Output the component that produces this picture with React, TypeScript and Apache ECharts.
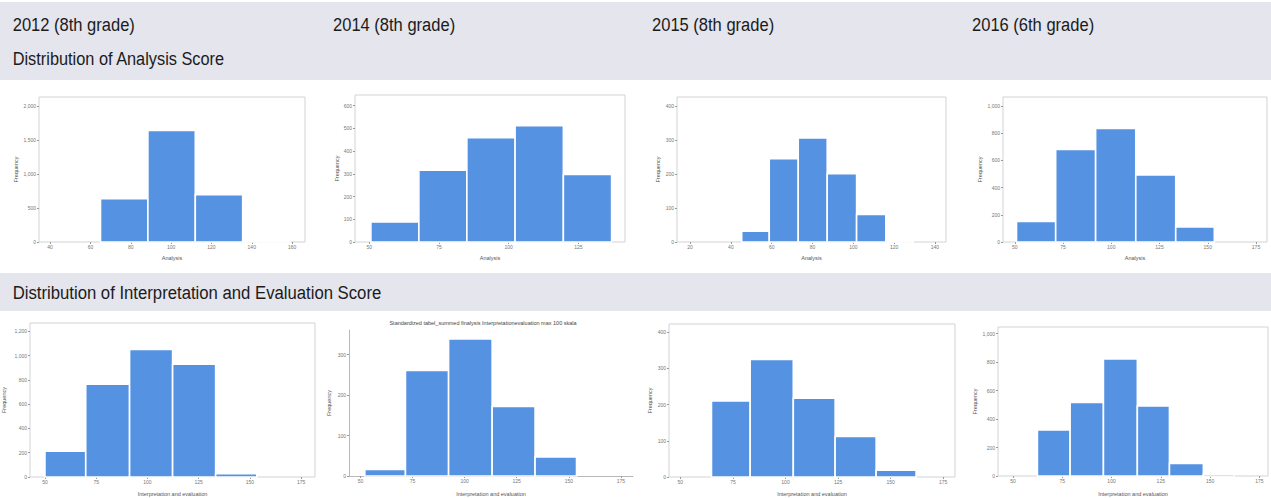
import React, { useEffect, useRef } from "react";
import * as echarts from "echarts";

// Header texts
const yearLabels = ["2012 (8th grade)", "2014 (8th grade)", "2015 (8th grade)", "2016 (6th grade)"];
const sectionTitles = [
  "Distribution of Analysis Score",
  "Distribution of Interpretation and Evaluation Score",
];
const analysisAxisName = "Analysis";
const interpAxisName = "Interpretation and evaluation";
const freqAxisName = "Frequency";
const interp2014Title =
  "Standardized tabel_summed finalysis Interpretationevaluation max 100 skala";

// Analysis score histograms (bin edges + counts)
const analysis2012Edges = [65, 88.5, 112, 135.5, 159];
const analysis2012Freq = [637, 1642, 696, 15];
const analysis2012XTicks = [40, 60, 80, 100, 120, 140, 160];
const analysis2012YTicks = [0, 500, 1000, 1500, 2000];

const analysis2014Edges = [50.6, 67.8, 85, 102.3, 119.6, 136.9];
const analysis2014Freq = [88, 316, 459, 512, 297];
const analysis2014XTicks = [50, 75, 100, 125];
const analysis2014YTicks = [0, 100, 200, 300, 400, 500, 600];

const analysis2015Edges = [45.3, 58.8, 73, 87.2, 101.6, 115.9, 129.4];
const analysis2015Freq = [32, 245, 306, 201, 81, 2];
const analysis2015XTicks = [20, 40, 60, 80, 100, 120, 140];
const analysis2015YTicks = [0, 100, 200, 300, 400];

const analysis2016Edges = [50.9, 71.2, 91.9, 112.7, 133.4, 153.4];
const analysis2016Freq = [151, 680, 834, 493, 110];
const analysis2016XTicks = [50, 75, 100, 125, 150, 175];
const analysis2016YTicks = [0, 200, 400, 600, 800, 1000];

// Interpretation and evaluation score histograms
const interp2012Edges = [50, 69.9, 91.3, 112.3, 133.3, 153.4];
const interp2012Freq = [213, 764, 1050, 928, 27];
const interp2012XTicks = [50, 75, 100, 125, 150, 175];
const interp2012YTicks = [0, 200, 400, 600, 800, 1000, 1200];

const interp2014Edges = [52.1, 71.6, 92.3, 113.2, 133.8, 153.7];
const interp2014Freq = [16, 261, 339, 172, 47];
const interp2014XTicks = [50, 75, 100, 125, 150, 175];
const interp2014YTicks = [0, 100, 200, 300];

const interp2015Edges = [64.8, 83.2, 103.7, 123.6, 143.1, 162.1];
const interp2015Freq = [210, 325, 218, 112, 19];
const interp2015XTicks = [50, 75, 100, 125, 150, 175];
const interp2015YTicks = [0, 100, 200, 300, 400];

const interp2016Edges = [62.4, 79, 95.9, 113.1, 129.4, 146.6, 162.3];
const interp2016Freq = [324, 516, 822, 493, 89, 12];
const interp2016XTicks = [50, 75, 100, 125, 150, 175];
const interp2016YTicks = [0, 200, 400, 600, 800, 1000];

// Panels in reading order, data only
const panels = [
  { edges: analysis2012Edges, freq: analysis2012Freq, xTicks: analysis2012XTicks, yTicks: analysis2012YTicks, xName: analysisAxisName },
  { edges: analysis2014Edges, freq: analysis2014Freq, xTicks: analysis2014XTicks, yTicks: analysis2014YTicks, xName: analysisAxisName },
  { edges: analysis2015Edges, freq: analysis2015Freq, xTicks: analysis2015XTicks, yTicks: analysis2015YTicks, xName: analysisAxisName },
  { edges: analysis2016Edges, freq: analysis2016Freq, xTicks: analysis2016XTicks, yTicks: analysis2016YTicks, xName: analysisAxisName },
  { edges: interp2012Edges, freq: interp2012Freq, xTicks: interp2012XTicks, yTicks: interp2012YTicks, xName: interpAxisName },
  { edges: interp2014Edges, freq: interp2014Freq, xTicks: interp2014XTicks, yTicks: interp2014YTicks, xName: interpAxisName },
  { edges: interp2015Edges, freq: interp2015Freq, xTicks: interp2015XTicks, yTicks: interp2015YTicks, xName: interpAxisName },
  { edges: interp2016Edges, freq: interp2016Freq, xTicks: interp2016XTicks, yTicks: interp2016YTicks, xName: interpAxisName },
];

// Layout of each panel: plot box, axis ranges, name gaps, frame style
const layouts = [
  { left: 39, top: 97, width: 266, height: 145, xMin: 34.5, xMax: 166.4, yMax: 2132, xGap: 13, yGap: 20, framed: true },
  { left: 355, top: 95, width: 270, height: 147, xMin: 44.9, xMax: 141.7, yMax: 647, xGap: 13, yGap: 15, framed: true },
  { left: 677, top: 97, width: 269, height: 145, xMin: 13.6, xMax: 145.4, yMax: 426, xGap: 13, yGap: 16, framed: true },
  { left: 1003, top: 97, width: 264, height: 145, xMin: 43.9, xMax: 180.7, yMax: 1066, xGap: 13, yGap: 20, framed: true },
  { left: 30, top: 323, width: 285, height: 155, xMin: 42.7, xMax: 181.8, yMax: 1268, xGap: 14, yGap: 23, framed: true },
  { left: 349, top: 330, width: 284, height: 147, xMin: 44.5, xMax: 180.8, yMax: 361, xGap: 15, yGap: 17, framed: false },
  { left: 669, top: 324, width: 286, height: 154, xMin: 44.6, xMax: 180.6, yMax: 423, xGap: 14, yGap: 16, framed: true },
  { left: 998, top: 327, width: 270, height: 149, xMin: 42.4, xMax: 179.4, yMax: 1047, xGap: 15, yGap: 20, framed: true },
];

const BAR_COLOR = "#5592e2";
const BAND_COLOR = "#e4e5ed";
const HEADER_FONT = '"Liberation Sans", Arial, sans-serif';
const SMALL_FONT = '"Liberation Sans", Arial, sans-serif';

const fmt = (v: number) => v.toLocaleString("en-US");

function headerText(text: string, x: number, y: number, scaleX: number) {
  return {
    type: "text",
    x,
    y,
    scaleX,
    style: { text, font: `19px ${HEADER_FONT}`, fill: "#1b1b1b", verticalAlign: "middle", align: "left" },
  };
}

function buildOption() {
  const grid = layouts.map((l) => ({
    left: l.left,
    top: l.top,
    width: l.width,
    height: l.height,
    show: l.framed,
    borderColor: "#d3d3d3",
    borderWidth: 1,
    backgroundColor: "#ffffff",
  }));

  const xAxis = panels.map((p, i) => {
    const l = layouts[i];
    return {
      gridIndex: i,
      type: "value",
      min: l.xMin,
      max: l.xMax,
      axisLine: { show: !l.framed, lineStyle: { color: "#b8b8b8", width: 1 } },
      axisTick: { show: true, customValues: p.xTicks, length: 2, lineStyle: { color: "#9a9a9a" } },
      axisLabel: {
        customValues: p.xTicks,
        fontSize: 5,
        color: "#777",
        margin: 2,
        fontFamily: SMALL_FONT,
        formatter: fmt,
      },
      splitLine: { show: false },
      name: p.xName,
      nameLocation: "middle",
      nameGap: l.xGap,
      nameTextStyle: { fontSize: 5.5, color: "#555", fontFamily: SMALL_FONT },
    };
  });

  const yAxis = panels.map((p, i) => {
    const l = layouts[i];
    return {
      gridIndex: i,
      type: "value",
      min: 0,
      max: l.yMax,
      axisLine: { show: !l.framed, lineStyle: { color: "#b8b8b8", width: 1 } },
      axisTick: { show: true, customValues: p.yTicks, length: 2, lineStyle: { color: "#9a9a9a" } },
      axisLabel: {
        customValues: p.yTicks,
        fontSize: 5,
        color: "#777",
        margin: 3,
        fontFamily: SMALL_FONT,
        formatter: fmt,
      },
      splitLine: { show: false },
      name: freqAxisName,
      nameLocation: "middle",
      nameRotate: 90,
      nameGap: l.yGap,
      nameTextStyle: { fontSize: 5.5, color: "#555", fontFamily: SMALL_FONT },
    };
  });

  const series = panels.map((p, i) => ({
    type: "custom",
    xAxisIndex: i,
    yAxisIndex: i,
    encode: { x: [0, 1], y: 2 },
    data: p.freq.map((f, k) => [p.edges[k], p.edges[k + 1], f]),
    renderItem: (_params: any, api: any) => {
      const topLeft = api.coord([api.value(0), api.value(2)]);
      const bottomRight = api.coord([api.value(1), 0]);
      return {
        type: "rect",
        shape: {
          x: topLeft[0],
          y: topLeft[1],
          width: bottomRight[0] - topLeft[0],
          height: bottomRight[1] - topLeft[1],
        },
        style: { fill: BAR_COLOR, stroke: "#ffffff", lineWidth: 1.6 },
      };
    },
  }));

  const yearX = [12.7, 333, 652, 972];
  const graphic: any[] = [
    { type: "rect", shape: { x: 0, y: 2, width: 1271, height: 78 }, style: { fill: BAND_COLOR }, silent: true },
    { type: "rect", shape: { x: 0, y: 273, width: 1271, height: 38 }, style: { fill: BAND_COLOR }, silent: true },
    ...yearLabels.map((t, i) => headerText(t, yearX[i], 25, 0.87)),
    headerText(sectionTitles[0], 12.7, 58.5, 0.86),
    headerText(sectionTitles[1], 12.7, 293, 0.88),
    {
      type: "text",
      x: 483,
      y: 323,
      style: { text: interp2014Title, font: `5.5px ${SMALL_FONT}`, fill: "#444", verticalAlign: "middle", align: "center" },
    },
  ];

  return {
    animation: false,
    backgroundColor: "#ffffff",
    grid,
    xAxis,
    yAxis,
    series,
    graphic,
  };
}

export default function App() {
  const ref = useRef<HTMLDivElement>(null);
  useEffect(() => {
    if (!ref.current) return;
    const chart = echarts.init(ref.current, undefined, { renderer: "svg" });
    chart.setOption(buildOption() as any);
    return () => chart.dispose();
  }, []);
  return (
    <div
      ref={ref}
      style={{ position: "absolute", left: 0, top: 0, width: 1271, height: 498 }}
    />
  );
}
